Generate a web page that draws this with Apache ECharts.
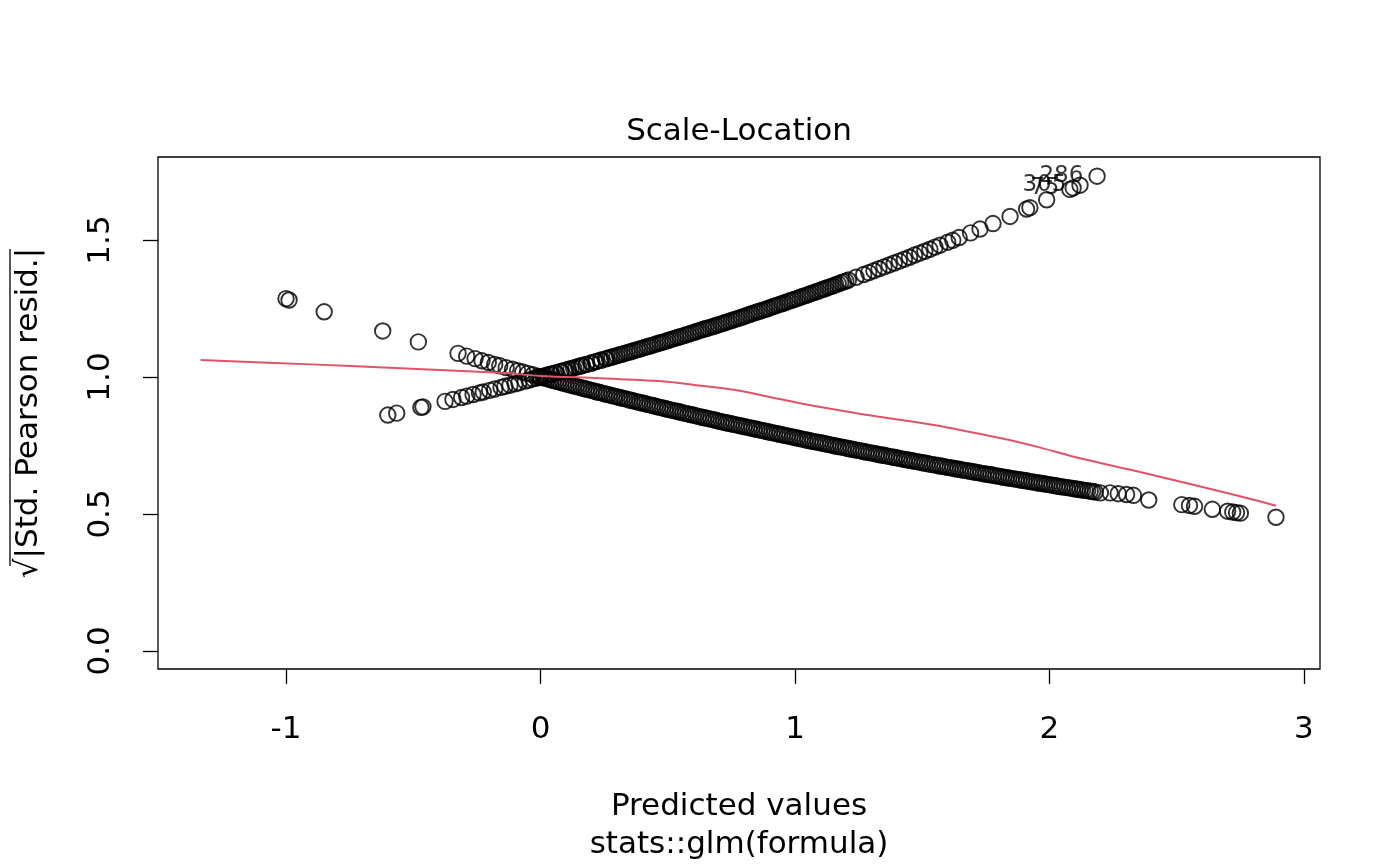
<!DOCTYPE html>
<html>
<head>
<meta charset="utf-8">
<script src="https://cdn.jsdelivr.net/npm/echarts@6/dist/echarts.min.js"></script>
<style>html,body{margin:0;padding:0;background:#fff}#c{width:1400px;height:866px}</style>
</head>
<body>
<div id="c"></div>
<script>
// Tick marks / labels
const xTicks = [-1, 0, 1, 2, 3];
const yTicks = [0, 0.5, 1, 1.5];
const yTickLabels = ['0.0', '0.5', '1.0', '1.5'];

// Observations with response 0 (rising branch)
const riseX = [-0.600,-0.565,-0.470,-0.462,-0.375,-0.344,-0.310,-0.290,-0.265,-0.240,-0.225,-0.200,-0.180,-0.155,-0.140,-0.120,-0.100,-0.085,-0.060,-0.045,-0.030,-0.015,0.000,0.015,0.030,0.045,0.060,0.080,0.095,0.110,0.130,0.150,0.165,0.180,0.200,0.215,0.235,0.255,0.270,0.290,0.310,0.330,0.350,0.370,0.390,0.410,0.430,0.450,0.470,0.490,0.510,0.530,0.550,0.570,0.590,0.610,0.630,0.650,0.670,0.690,0.710,0.730,0.750,0.770,0.790,0.810,0.830,0.850,0.870,0.890,0.910,0.930,0.950,0.970,0.990,1.010,1.030,1.050,1.070,1.090,1.110,1.130,1.150,1.170,1.190,1.210,1.240,1.270,1.290,1.310,1.330,1.350,1.370,1.390,1.410,1.430,1.450,1.470,1.490,1.510,1.530,1.550,1.570,1.600,1.620,1.645,1.690,1.727,1.778,1.845,1.910,1.923,1.989,2.080,2.093,2.120,2.187];
const riseY = [0.861,0.868,0.889,0.891,0.911,0.918,0.925,0.930,0.936,0.942,0.945,0.951,0.956,0.962,0.966,0.970,0.975,0.979,0.985,0.989,0.993,0.996,1.000,1.004,1.008,1.011,1.015,1.020,1.024,1.028,1.033,1.038,1.042,1.046,1.051,1.055,1.061,1.066,1.070,1.075,1.081,1.086,1.091,1.097,1.102,1.108,1.113,1.119,1.125,1.130,1.136,1.142,1.147,1.153,1.159,1.165,1.171,1.177,1.182,1.188,1.194,1.200,1.206,1.212,1.218,1.225,1.231,1.237,1.243,1.249,1.256,1.262,1.268,1.275,1.281,1.287,1.294,1.300,1.307,1.313,1.320,1.327,1.333,1.340,1.347,1.354,1.364,1.374,1.381,1.388,1.395,1.402,1.409,1.416,1.423,1.430,1.437,1.445,1.452,1.459,1.466,1.474,1.481,1.492,1.499,1.509,1.526,1.540,1.560,1.586,1.613,1.618,1.647,1.685,1.690,1.700,1.733];
// more response-0 observations in the dense part of the band
const riseX2 = [0.00,0.02,0.04,0.06,0.08,0.10,0.12,0.14,0.16,0.18,0.20,0.22,0.24,0.26,0.28,0.30,0.32,0.34,0.36,0.38,0.40,0.42,0.44,0.46,0.48,0.50,0.52,0.54,0.56,0.58,0.60,0.62,0.64,0.66,0.68,0.70,0.72,0.74,0.76,0.78,0.80,0.82,0.84,0.86,0.88,0.90,0.92,0.94,0.96,0.98,1.00,1.02,1.04,1.06,1.08,1.10,1.12,1.14,1.16,1.18,1.20];
const riseY2 = [1.000,1.005,1.010,1.015,1.020,1.025,1.030,1.036,1.041,1.046,1.051,1.057,1.062,1.067,1.073,1.078,1.083,1.089,1.094,1.100,1.105,1.111,1.116,1.122,1.127,1.133,1.139,1.145,1.150,1.156,1.162,1.168,1.174,1.179,1.185,1.191,1.197,1.203,1.209,1.215,1.221,1.228,1.234,1.240,1.246,1.252,1.259,1.265,1.271,1.278,1.284,1.291,1.297,1.304,1.310,1.317,1.323,1.330,1.337,1.344,1.350];

// Observations with response 1 (falling branch)
const fallX = [-1.000,-0.988,-0.850,-0.620,-0.480,-0.324,-0.290,-0.257,-0.230,-0.205,-0.180,-0.160,-0.135,-0.110,-0.090,-0.070,-0.050,-0.030,-0.010,0.010,0.030,0.050,0.070,0.090,0.110,0.130,0.150,0.170,0.190,0.210,0.230,0.250,0.270,0.290,0.310,0.330,0.350,0.370,0.390,0.410,0.430,0.450,0.470,0.490,0.510,0.530,0.550,0.570,0.590,0.610,0.630,0.650,0.670,0.690,0.710,0.730,0.750,0.770,0.790,0.810,0.830,0.850,0.870,0.890,0.910,0.930,0.950,0.970,0.990,1.010,1.030,1.050,1.070,1.090,1.110,1.130,1.150,1.170,1.190,1.210,1.230,1.250,1.270,1.290,1.310,1.330,1.350,1.370,1.390,1.410,1.430,1.450,1.470,1.490,1.510,1.530,1.550,1.570,1.590,1.610,1.630,1.650,1.670,1.690,1.710,1.730,1.750,1.770,1.790,1.810,1.830,1.850,1.870,1.890,1.910,1.930,1.950,1.970,1.990,2.010,2.030,2.050,2.070,2.090,2.110,2.130,2.150,2.170,2.200,2.238,2.270,2.303,2.330,2.390,2.520,2.550,2.570,2.640,2.700,2.720,2.735,2.750,2.890];
const fallY = [1.286,1.281,1.238,1.168,1.128,1.086,1.076,1.067,1.059,1.053,1.046,1.041,1.034,1.028,1.023,1.018,1.013,1.008,1.003,0.998,0.993,0.988,0.983,0.978,0.973,0.968,0.963,0.958,0.954,0.949,0.944,0.939,0.935,0.930,0.925,0.921,0.916,0.912,0.907,0.903,0.898,0.894,0.889,0.885,0.880,0.876,0.872,0.867,0.863,0.859,0.854,0.850,0.846,0.842,0.837,0.833,0.829,0.825,0.821,0.817,0.813,0.809,0.805,0.801,0.797,0.793,0.789,0.785,0.781,0.777,0.773,0.769,0.765,0.762,0.758,0.754,0.750,0.746,0.743,0.739,0.735,0.732,0.728,0.724,0.721,0.717,0.714,0.710,0.707,0.703,0.699,0.696,0.693,0.689,0.686,0.682,0.679,0.675,0.672,0.669,0.665,0.662,0.659,0.656,0.652,0.649,0.646,0.643,0.639,0.636,0.633,0.630,0.627,0.624,0.621,0.617,0.614,0.611,0.608,0.605,0.602,0.599,0.596,0.593,0.590,0.587,0.585,0.582,0.577,0.577,0.574,0.571,0.568,0.551,0.534,0.531,0.528,0.517,0.510,0.507,0.505,0.503,0.488];
// more response-1 observations in the dense part of the band
const fallX2 = [0.00,0.02,0.04,0.06,0.08,0.10,0.12,0.14,0.16,0.18,0.20,0.22,0.24,0.26,0.28,0.30,0.32,0.34,0.36,0.38,0.40,0.42,0.44,0.46,0.48,0.50,0.52,0.54,0.56,0.58,0.60,0.62,0.64,0.66,0.68,0.70,0.72,0.74,0.76,0.78,0.80,0.82,0.84,0.86,0.88,0.90,0.92,0.94,0.96,0.98,1.00,1.02,1.04,1.06,1.08,1.10,1.12,1.14,1.16,1.18,1.20,1.22,1.24,1.26,1.28,1.30,1.32,1.34,1.36,1.38,1.40,1.42,1.44,1.46,1.48,1.50,1.52,1.54,1.56,1.58,1.60,1.62,1.64,1.66,1.68,1.70,1.72,1.74,1.76,1.78,1.80,1.82,1.84,1.86,1.88,1.90,1.92,1.94,1.96,1.98,2.00,2.02,2.04,2.06,2.08,2.10,2.12,2.14,2.16,2.18];
const fallY2 = [1.000,0.995,0.990,0.985,0.980,0.975,0.970,0.966,0.961,0.956,0.951,0.946,0.942,0.937,0.932,0.928,0.923,0.919,0.914,0.909,0.905,0.900,0.896,0.891,0.887,0.882,0.878,0.874,0.869,0.865,0.861,0.856,0.852,0.848,0.844,0.839,0.835,0.831,0.827,0.823,0.819,0.815,0.811,0.807,0.803,0.799,0.795,0.791,0.787,0.783,0.779,0.775,0.771,0.767,0.763,0.760,0.756,0.752,0.748,0.745,0.741,0.737,0.733,0.730,0.726,0.723,0.719,0.715,0.712,0.708,0.705,0.701,0.698,0.694,0.691,0.687,0.684,0.680,0.677,0.674,0.670,0.667,0.664,0.660,0.657,0.654,0.651,0.647,0.644,0.641,0.638,0.634,0.631,0.628,0.625,0.622,0.619,0.616,0.613,0.610,0.607,0.604,0.600,0.598,0.595,0.592,0.589,0.586,0.583,0.580];

// Loess smooth (red)
const smoothX = [-1.336,-0.900,-0.550,-0.157,0.000,0.236,0.500,0.630,0.760,0.890,1.020,1.150,1.285,1.545,1.810,1.960,2.120,2.360,2.737,2.890];
const smoothY = [1.062,1.046,1.032,1.015,1.004,0.995,0.983,0.968,0.953,0.929,0.904,0.882,0.861,0.825,0.776,0.743,0.703,0.652,0.567,0.530];

// Identified points
const idX = [2.187, 2.120, 2.093];
const idText = ['286', '305', '75'];

const FONT = 'DejaVu Sans';
const riseData = riseX.map((x, i) => {
  const k = idX.indexOf(x);
  const item = { value: [x, riseY[i]] };
  if (k >= 0) {
    item.label = { show: true, formatter: idText[k], position: 'left', distance: 5,
      fontSize: 23, color: '#000', fontFamily: FONT };
  }
  return item;
}).concat(riseX2.map((x, i) => [x, riseY2[i]]));
const fallData = fallX.map((x, i) => [x, fallY[i]]).concat(fallX2.map((x, i) => [x, fallY2[i]]));
const smoothData = smoothX.map((x, i) => [x, smoothY[i]]);

const pointStyle = { color: 'rgba(0,0,0,0)', borderColor: '#000', borderWidth: 1.9 };

const chart = echarts.init(document.getElementById('c'), null, { renderer: 'canvas' });
chart.setOption({
  animation: false,
  backgroundColor: '#fff',
  textStyle: { fontFamily: FONT },
  title: {
    text: 'Scale-Location', left: 739, top: 116, textAlign: 'center', padding: 0,
    textStyle: { fontSize: 31, fontWeight: 'normal', color: '#000', fontFamily: FONT }
  },
  grid: { left: 158, right: 80, top: 157, bottom: 197, show: true, containLabel: false,
    outerBoundsMode: 'none',
    borderColor: '#000', borderWidth: 1.3, backgroundColor: 'transparent' },
  xAxis: {
    type: 'value', min: -1.503, max: 3.063,
    axisLine: { show: false, onZero: false }, splitLine: { show: false },
    axisTick: { show: true, length: 15, customValues: xTicks, lineStyle: { color: '#000', width: 1.3 } },
    axisLabel: { customValues: xTicks, fontSize: 31, color: '#000', margin: 45, fontFamily: FONT },
    name: 'Predicted values\nstats::glm(formula)', nameLocation: 'middle', nameGap: 119,
    nameTextStyle: { fontSize: 31, color: '#000', lineHeight: 38, fontFamily: FONT }
  },
  yAxis: {
    type: 'value', min: -0.066, max: 1.803,
    axisLine: { show: false, onZero: false }, splitLine: { show: false },
    axisTick: { show: true, length: 15, customValues: yTicks, lineStyle: { color: '#000', width: 1.3 } },
    axisLabel: { customValues: yTicks, rotate: 90, fontSize: 31, color: '#000', margin: 42, fontFamily: FONT,
      formatter: v => yTickLabels[yTicks.indexOf(v)] ?? '' },
    name: '√|Std. Pearson resid.|', nameLocation: 'middle', nameRotate: 90, nameGap: 114,
    nameTextStyle: { fontSize: 31, color: '#000', fontFamily: FONT }
  },
  graphic: [
    { type: 'line', shape: { x1: 10, y1: 249, x2: 10, y2: 566 }, style: { stroke: '#000', lineWidth: 1.3 } }
  ],
  series: [
    { type: 'scatter', data: fallData, symbol: 'circle', symbolSize: 15.5, itemStyle: pointStyle, silent: true, large: false },
    { type: 'scatter', data: riseData, symbol: 'circle', symbolSize: 15.5, itemStyle: pointStyle, silent: true, large: false,
      labelLayout: { hideOverlap: false } },
    { type: 'line', data: smoothData, smooth: 0.35, showSymbol: false, symbol: 'none',
      lineStyle: { color: '#DF536B', width: 2 }, silent: true, z: 5 }
  ]
});
</script>
</body>
</html>
